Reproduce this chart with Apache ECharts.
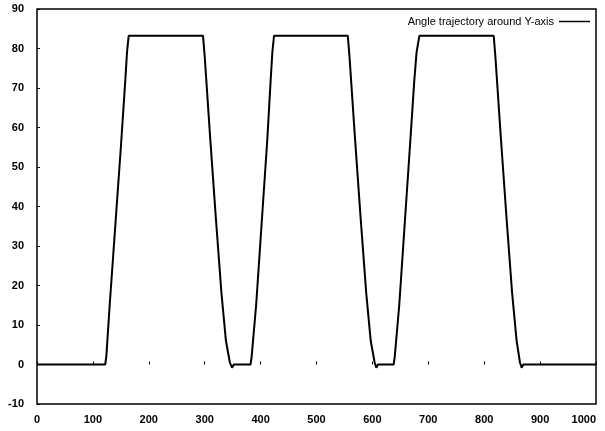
<!DOCTYPE html>
<html>
<head>
<meta charset="utf-8">
<script src="https://cdn.jsdelivr.net/npm/echarts@6/dist/echarts.min.js"></script>
<style>html,body{margin:0;padding:0;background:#fff;}#c{width:605px;height:431px;}</style>
</head>
<body>
<div id="c"></div>
<script>
const seriesName = 'Angle trajectory around Y-axis';
const xTicks = [0, 100, 200, 300, 400, 500, 600, 700, 800, 900, 1000];
const yTicks = [-10, 0, 10, 20, 30, 40, 50, 60, 70, 80, 90];
const angleX = [0, 122, 124, 130, 140, 150, 158, 161, 164, 297, 300, 310, 320, 330, 338, 345, 349, 352, 382, 384, 392, 402, 412, 418, 421, 424, 556, 559, 569, 579, 589, 597, 604, 607, 610, 638, 640, 648, 658, 668, 675, 679, 684, 817, 820, 830, 840, 850, 858, 864, 867, 870, 1000];
const angleY = [0, 0, 2, 15, 35, 55, 72, 79, 83.2, 83.2, 78, 57, 37, 18, 6, 0.5, -0.8, 0, 0, 2, 15, 36, 57, 72, 79, 83.2, 83.2, 78, 57, 37, 18, 6, 0.5, -0.8, 0, 0, 2, 15, 36, 57, 72, 79, 83.2, 83.2, 78, 57, 37, 18, 6, 0.5, -0.8, 0, 0];

const data = angleX.map((x, i) => [x, angleY[i]]);
const chart = echarts.init(document.getElementById('c'), null, {renderer: 'canvas'});
const labelFont = {color: '#000', fontFamily: 'Liberation Sans, Arial, sans-serif', fontWeight: 'bold', fontSize: 11};
chart.setOption({
  animation: false,
  backgroundColor: '#fff',
  grid: {left: 37, right: 9, top: 9, bottom: 27, show: true, borderColor: '#000', borderWidth: 1.5, containLabel: false, outerBoundsMode: 'none'},
  legend: {
    show: true, data: [seriesName], right: 10, top: 11, align: 'right',
    icon: 'rect', itemWidth: 31, itemHeight: 1.5, itemGap: 5,
    textStyle: {color: '#000', fontFamily: 'Liberation Sans, Arial, sans-serif', fontSize: 11}
  },
  xAxis: {
    type: 'value', min: xTicks[0], max: xTicks[xTicks.length - 1], interval: 100,
    axisLine: {show: false}, splitLine: {show: false},
    axisTick: {show: true, inside: true, length: 3, lineStyle: {color: '#000'}},
    axisLabel: Object.assign({margin: 10, formatter: v => String(v), alignMaxLabel: 'right'}, labelFont)
  },
  yAxis: {
    type: 'value', min: yTicks[0], max: yTicks[yTicks.length - 1], interval: 10,
    axisLine: {show: false}, splitLine: {show: false},
    axisTick: {show: true, inside: true, length: 3, lineStyle: {color: '#000'}},
    axisLabel: Object.assign({margin: 13, formatter: v => String(v)}, labelFont)
  },
  series: [{
    name: seriesName, type: 'line', data: data, showSymbol: false, symbol: 'none',
    lineStyle: {color: '#000', width: 2}, itemStyle: {color: '#000'}
  }]
});
</script>
</body>
</html>
